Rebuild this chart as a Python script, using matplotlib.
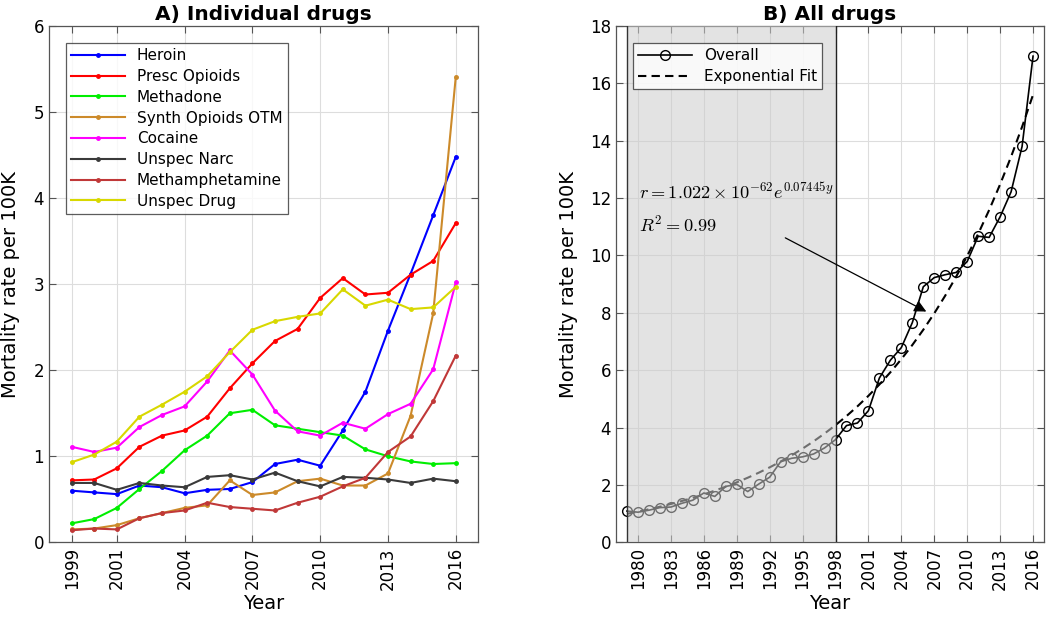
import numpy as np
import matplotlib
matplotlib.use("Agg")
import matplotlib.pyplot as plt
from matplotlib.patches import Rectangle

# ---- data: panel A (individual drugs) ----
years_a = np.arange(1999, 2017)
drug_names = ["Heroin", "Presc Opioids", "Methadone", "Synth Opioids OTM",
              "Cocaine", "Unspec Narc", "Methamphetamine", "Unspec Drug"]
heroin = [0.60, 0.58, 0.56, 0.66, 0.64, 0.57, 0.61, 0.62, 0.70, 0.91, 0.96, 0.89,
          1.30, 1.75, 2.46, 3.12, 3.80, 4.48]
presc_opioids = [0.72, 0.73, 0.86, 1.11, 1.24, 1.30, 1.46, 1.79, 2.08, 2.34, 2.48, 2.84,
                 3.07, 2.88, 2.90, 3.11, 3.27, 3.71]
methadone = [0.22, 0.27, 0.40, 0.62, 0.83, 1.07, 1.24, 1.50, 1.54, 1.36, 1.32, 1.28,
             1.24, 1.08, 1.00, 0.94, 0.91, 0.92]
synth_opioids = [0.15, 0.16, 0.20, 0.28, 0.34, 0.40, 0.43, 0.72, 0.55, 0.58, 0.71, 0.74,
                 0.66, 0.66, 0.80, 1.47, 2.66, 5.41]
cocaine = [1.11, 1.05, 1.10, 1.34, 1.48, 1.58, 1.87, 2.23, 1.95, 1.53, 1.29, 1.24,
           1.39, 1.32, 1.49, 1.61, 2.01, 3.02]
unspec_narc = [0.69, 0.69, 0.61, 0.69, 0.66, 0.64, 0.76, 0.78, 0.73, 0.81, 0.71, 0.65,
               0.76, 0.75, 0.73, 0.69, 0.74, 0.71]
methamphetamine = [0.14, 0.16, 0.15, 0.28, 0.34, 0.37, 0.46, 0.41, 0.39, 0.37, 0.46, 0.53,
                   0.65, 0.75, 1.05, 1.23, 1.64, 2.17]
unspec_drug = [0.93, 1.02, 1.17, 1.46, 1.60, 1.75, 1.93, 2.21, 2.47, 2.57, 2.62, 2.66,
               2.94, 2.75, 2.82, 2.71, 2.73, 2.97]
drug_colors = ["#0000ff", "#ff0000", "#00ee00", "#cc8a2a",
               "#ff00ff", "#3a3a3a", "#c03838", "#d8d800"]

# ---- data: panel B (all drugs) ----
years_b = np.arange(1979, 2017)
overall = [1.09, 1.05, 1.12, 1.21, 1.23, 1.36, 1.47, 1.72, 1.60, 1.95,
           2.02, 1.77, 2.03, 2.27, 2.81, 2.93, 2.98, 3.08, 3.29, 3.58,
           4.07, 4.16, 4.59, 5.73, 6.35, 6.79, 7.66, 8.91, 9.23, 9.33,
           9.41, 9.79, 10.67, 10.63, 11.35, 12.22, 13.80, 16.95]
# exponential fit from the annotation (printed prefactor is off by 1e-2)
fit_coef = 1.022e-64
fit_rate = 0.07445

plt.rcParams['font.family'] = ['DejaVu Sans']
plt.rcParams['mathtext.fontset'] = 'cm'

fig = plt.figure(figsize=(10.5, 6.21), dpi=100)
ax1 = fig.add_axes([0.0467, 0.1267, 0.4089, 0.8314])
ax2 = fig.add_axes([0.5867, 0.1267, 0.4076, 0.8314])

spine_col = '#555555'

def style(ax):
    ax.grid(True, color='#dddddd', linewidth=0.8)
    ax.set_axisbelow(True)
    ax.tick_params(direction='in', top=True, right=True, length=5, width=0.8,
                   color=spine_col, labelsize=12)
    ax.tick_params(axis='x', rotation=90)
    for s in ax.spines.values():
        s.set_color(spine_col)
        s.set_linewidth(0.9)

leg_kw = dict(loc='upper left', fontsize=11, frameon=True, fancybox=False,
              edgecolor='#333333', borderaxespad=1.1, handlelength=3.5,
              labelspacing=0.38, borderpad=0.35)

# panel A
series = [heroin, presc_opioids, methadone, synth_opioids,
          cocaine, unspec_narc, methamphetamine, unspec_drug]
for vals, name, c in zip(series, drug_names, drug_colors):
    ax1.plot(years_a, vals, '.-', color=c, lw=1.5, ms=5, label=name)
ax1.set_xlim(1998, 2017)
ax1.set_ylim(0, 6)
ax1.set_xticks([1999, 2001, 2004, 2007, 2010, 2013, 2016])
ax1.set_yticks(range(0, 7))
style(ax1)
ax1.set_xlabel('Year', fontsize=14, labelpad=3)
ax1.set_ylabel('Mortality rate per 100K', fontsize=14)
ax1.yaxis.set_label_coords(-0.068, 0.5)
ax1.set_title('A) Individual drugs', fontsize=14.5, fontweight='bold', pad=4)
leg = ax1.legend(**leg_kw)
leg.get_frame().set_linewidth(0.9)

# panel B
yb = np.array(overall)
fit = fit_coef * np.exp(fit_rate * years_b)
ax2.plot(years_b, yb, 'o-', color='black', mfc='none', ms=7, lw=1.2, label='Overall')
ax2.plot(years_b, fit, '--', color='black', lw=1.5, dashes=(4, 2.5),
         label='Exponential Fit')
ax2.add_patch(Rectangle((1979, 0), 1998 - 1979, 18, facecolor=(0.8, 0.8, 0.8),
                        alpha=0.55, edgecolor='none', zorder=3))
ax2.axvline(1979, color='#333333', lw=1.0, zorder=4)
ax2.axvline(1998, color='#222222', lw=1.0, zorder=4)
ax2.set_xlim(1978, 2017)
ax2.set_ylim(0, 18)
ax2.set_xticks(range(1980, 2017, 3))
ax2.set_yticks(range(0, 19, 2))
style(ax2)
ax2.set_xlabel('Year', fontsize=14, labelpad=3)
ax2.set_ylabel('Mortality rate per 100K', fontsize=14)
ax2.yaxis.set_label_coords(-0.089, 0.5)
ax2.set_title('B) All drugs', fontsize=14.5, fontweight='bold', pad=4)
ax2.text(1980.1, 12.2, r'$r = 1.022\times 10^{-62}e^{0.07445y}$', fontsize=13.2,
         va='center', zorder=6)
ax2.text(1980.1, 11.05, r'$R^2 = 0.99$', fontsize=13.2, va='center', zorder=6)
ax2.annotate('', xy=(2006.5, 8.0), xytext=(1993.2, 10.66),
             arrowprops=dict(arrowstyle='-|>', color='black', lw=0.9,
                             mutation_scale=18), zorder=6)
leg2 = ax2.legend(**leg_kw)
leg2.get_frame().set_linewidth(0.9)
leg2.set_zorder(10)

fig.savefig('out.png', dpi=100)
